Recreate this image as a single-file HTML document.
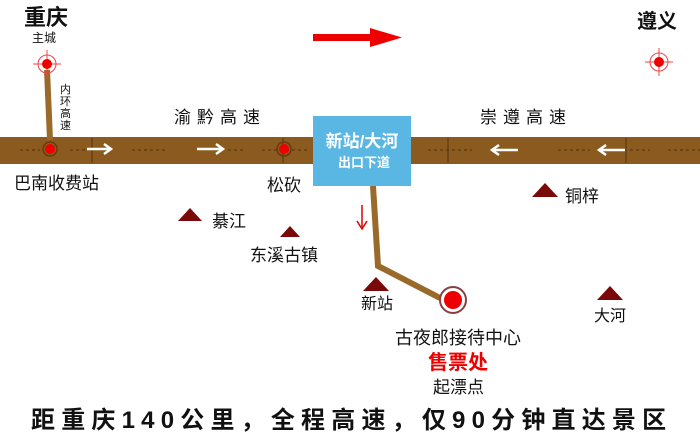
<!DOCTYPE html>
<html><head><meta charset="utf-8"><style>
body{margin:0;background:#fff}
text{font-family:"Liberation Sans","Noto Sans CJK SC",sans-serif}
</style></head><body>
<svg width="700" height="437" viewBox="0 0 700 437" xmlns="http://www.w3.org/2000/svg">
<rect width="700" height="437" fill="#fff"/>
<rect x="0" y="137" width="700" height="27" fill="#8a5a1e"/>
<g stroke="#5e3a10" stroke-width="1.2" stroke-dasharray="3,3">
<line x1="20" y1="150" x2="40" y2="150"/><line x1="70" y1="150" x2="85" y2="150"/>
<line x1="132" y1="150" x2="165" y2="150"/><line x1="228" y1="150" x2="245" y2="150"/>
<line x1="262" y1="150" x2="310" y2="150"/><line x1="428" y1="150" x2="472" y2="150"/>
<line x1="558" y1="150" x2="590" y2="150"/><line x1="630" y1="150" x2="650" y2="150"/>
<line x1="668" y1="150" x2="700" y2="150"/></g>
<g stroke="#5e3a10" stroke-width="1.2"><line x1="92" y1="138" x2="92" y2="163"/><line x1="283" y1="138" x2="283" y2="163"/><line x1="448" y1="138" x2="448" y2="163"/><line x1="626" y1="138" x2="626" y2="163"/></g>
<line x1="47" y1="70" x2="50" y2="140" stroke="#9a6a2a" stroke-width="6"/>
<polyline points="373,186 378,266 440,298" fill="none" stroke="#9a6a2a" stroke-width="6"/>
<g stroke="#fff" stroke-width="2.5" fill="none">
<line x1="87" y1="149" x2="110" y2="149"/><polyline points="104,144 111,149 104,154"/>
<line x1="197" y1="149" x2="222" y2="149"/><polyline points="216,144 223,149 216,154"/>
<line x1="493" y1="150" x2="518" y2="150"/><polyline points="499,145 492,150 499,155"/>
<line x1="600" y1="150" x2="625" y2="150"/><polyline points="606,145 599,150 606,155"/>
</g>
<circle cx="50" cy="149" r="7" fill="none" stroke="#6a3a10" stroke-width="1.5"/><circle cx="50" cy="149" r="5" fill="#e00"/>
<circle cx="284" cy="149" r="7" fill="none" stroke="#6a3a10" stroke-width="1.5"/><circle cx="284" cy="149" r="5" fill="#e00"/>
<g stroke="#e44" stroke-width="1" fill="none">
<circle cx="47" cy="64" r="9"/><line x1="33" y1="64" x2="61" y2="64"/><line x1="47" y1="50" x2="47" y2="78"/>
<circle cx="659" cy="62" r="9"/><line x1="645" y1="62" x2="673" y2="62"/><line x1="659" y1="48" x2="659" y2="76"/>
</g>
<circle cx="47" cy="64" r="5" fill="#e00"/><circle cx="659" cy="62" r="5" fill="#e00"/>
<rect x="313" y="34" width="62" height="7" fill="#e00"/><polygon points="370,28 402,37.5 370,47" fill="#e00"/>
<rect x="313" y="116" width="98" height="70" fill="#5ab6e2"/>
<text x="362" y="147" font-size="17" font-weight="bold" fill="#fff" text-anchor="middle">新站/大河</text>
<text x="364" y="167" font-size="13" font-weight="bold" fill="#fff" text-anchor="middle">出口下道</text>
<line x1="362" y1="205" x2="362" y2="227" stroke="#d00" stroke-width="1.5"/><polyline points="357,221 362,229 367,221" fill="none" stroke="#d00" stroke-width="1.5"/>
<circle cx="453" cy="300" r="13" fill="#fff" stroke="#8a4040" stroke-width="2"/><circle cx="453" cy="300" r="9" fill="#e00"/>
<g fill="#7a0a0a">
<polygon points="178,221 190,208 202,221"/>
<polygon points="280,237 290,226 300,237"/>
<polygon points="532,197 545,183 558,197"/>
<polygon points="363,291 376,277 389,291"/>
<polygon points="597,300 610,286 623,300"/>
</g>
<text x="24" y="25" font-size="22" font-weight="bold" fill="#111">重庆</text>
<text x="32" y="42" font-size="12" fill="#111">主城</text>
<g font-size="11" fill="#111"><text x="60" y="93">内</text><text x="60" y="105">环</text><text x="60" y="117">高</text><text x="60" y="129">速</text></g>
<text x="14" y="189" font-size="17" fill="#111">巴南收费站</text>
<text x="174" y="123" font-size="17" fill="#111" letter-spacing="6">渝黔高速</text>
<text x="267" y="191" font-size="17" fill="#111">松砍</text>
<text x="480" y="123" font-size="17" fill="#111" letter-spacing="6">崇遵高速</text>
<text x="637" y="28" font-size="20" font-weight="bold" fill="#111">遵义</text>
<text x="212" y="227" font-size="17" fill="#111">綦江</text>
<text x="250" y="261" font-size="17" fill="#111">东溪古镇</text>
<text x="565" y="202" font-size="17" fill="#111">铜梓</text>
<text x="361" y="309" font-size="16" fill="#111">新站</text>
<text x="594" y="321" font-size="16" fill="#111">大河</text>
<text x="395" y="344" font-size="18" fill="#111">古夜郎接待中心</text>
<text x="428" y="369" font-size="20" font-weight="bold" fill="#e00">售票处</text>
<text x="433" y="393" font-size="17" fill="#111">起漂点</text>
<text x="31" y="428" font-size="24" font-weight="bold" fill="#111" letter-spacing="6.2">距重庆140公里，全程高速，仅90分钟直达景区</text>
</svg>
</body></html>
